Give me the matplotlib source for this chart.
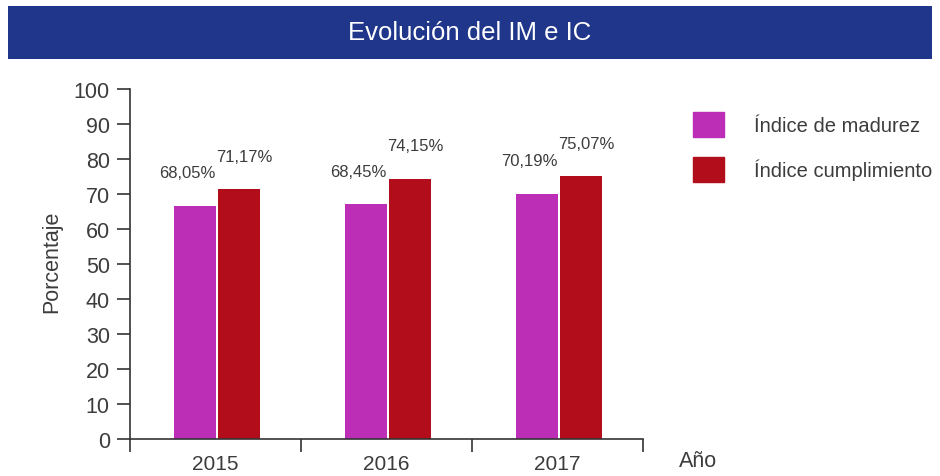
import matplotlib
matplotlib.use("Agg")
import matplotlib.pyplot as plt
from matplotlib.patches import Rectangle, Patch
import numpy as np

years = ["2015", "2016", "2017"]
madurez = [66.7, 67.1, 70.0]
cumplimiento = [71.4, 74.3, 75.1]
madurez_txt = ["68,05%", "68,45%", "70,19%"]
cumplimiento_txt = ["71,17%", "74,15%", "75,07%"]

c_mad = "#BC2EB5"
c_cum = "#B20D1B"
c_txt = "#3C3C3C"
c_banner = "#20368A"

plt.rcParams["font.family"] = ["Liberation Sans", "DejaVu Sans"]

fig = plt.figure(figsize=(9.4, 4.77), dpi=100)
fig.add_artist(Rectangle((8 / 940, 1 - 60 / 477), 924 / 940, 53 / 477,
                         transform=fig.transFigure, color=c_banner, lw=0))
fig.text(0.5, 1 - 33 / 477, "Evolución del IM e IC", color="white",
         ha="center", va="center", fontsize=18.5)

ax = fig.add_axes([130 / 940, 37 / 477, 513 / 940, 350 / 477])
x = np.arange(len(years))
w = 0.245
off = 0.128
ax.bar(x + 0.01 - off, madurez, w, color=c_mad)
ax.bar(x + 0.01 + off, cumplimiento, w, color=c_cum)

for xi, h, t in zip(x, madurez, madurez_txt):
    ax.annotate(t, (xi + 0.01 - off, h), xytext=(-8, 33), textcoords="offset pixels",
                ha="center", va="center", fontsize=12, color=c_txt)
for xi, h, t in zip(x, cumplimiento, cumplimiento_txt):
    ax.annotate(t, (xi + 0.01 + off, h), xytext=(5, 33), textcoords="offset pixels",
                ha="center", va="center", fontsize=12, color=c_txt)

ax.set_xlim(-0.5, len(years) - 0.5)
ax.set_ylim(0, 100)
ax.set_yticks(range(0, 101, 10))
ax.set_xticks(np.arange(-0.5, len(years), 1.0))
ax.set_xticklabels([])
ax.set_xticks(x, minor=True)
ax.set_xticklabels(years, minor=True)
ax.tick_params(axis="x", which="minor", length=0, pad=11, labelsize=15, labelcolor=c_txt)
ax.tick_params(axis="x", which="major", length=9.5, width=1.2, color="#333333")
ax.tick_params(axis="y", length=9.5, width=1.2, color="#333333", pad=5,
               labelsize=15.5, labelcolor=c_txt)
for s in ["top", "right"]:
    ax.spines[s].set_visible(False)
for s in ["left", "bottom"]:
    ax.spines[s].set_color("#333333")
    ax.spines[s].set_linewidth(1.2)

ax.set_ylabel("Porcentaje", fontsize=15.5, color=c_txt)
ax.yaxis.set_label_coords(-0.132, 0.51)
fig.text(698 / 940, 1 - 462 / 477, "Año", fontsize=15.5, color=c_txt,
         ha="center", va="center")

handles = [Patch(color=c_mad), Patch(color=c_cum)]
fig.legend(handles, ["Índice de madurez", "Índice cumplimiento"],
           loc="upper left", bbox_to_anchor=(693 / 940, 1 - 113 / 477),
           frameon=False, fontsize=14.5, labelcolor=c_txt,
           handlelength=1.54, handleheight=1.54, handletextpad=1.49,
           labelspacing=1.0, borderaxespad=0, borderpad=0)

fig.savefig("out.png", dpi=100)
